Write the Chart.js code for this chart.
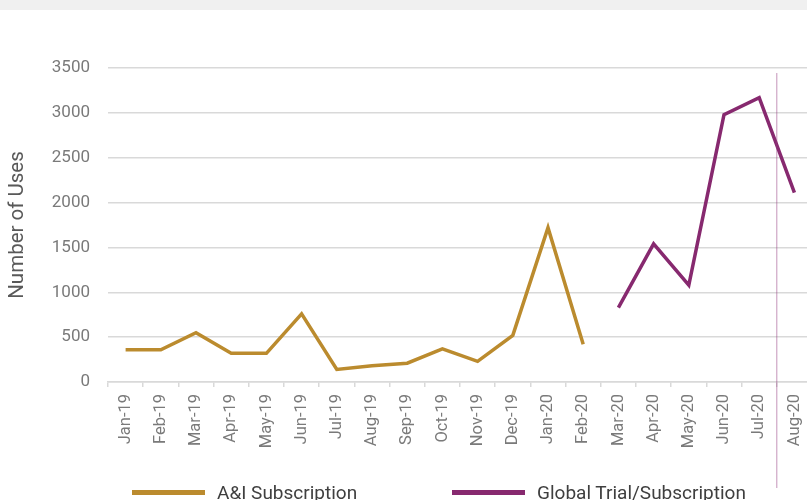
<!DOCTYPE html>
<html>
<head>
<meta charset="utf-8">
<script src="https://cdn.jsdelivr.net/npm/chart.js@4.4.1/dist/chart.umd.min.js"></script>
<style>
  html, body { margin: 0; padding: 0; background: #fff; overflow: hidden; }
  body { width: 807px; height: 500px; position: relative; }
  #band { position: absolute; left: 0; top: 0; width: 807px; height: 10px; background: #f0f0f0; z-index: 2; }
  #wrap { position: absolute; left: 0; top: 0; width: 830px; height: 500px; }
  .leg { position: absolute; top: 482px; font-family: Roboto, sans-serif; font-size: 19px; line-height: 22px; color: #3f3f3f; white-space: nowrap; z-index: 3; }
  .leg i { position: absolute; top: 8px; height: 5px; width: 73px; }
</style>
</head>
<body>
<div id="band"></div>
<div id="wrap"><canvas id="usesChart"></canvas></div>
<div class="leg" style="left:132px;"><i style="left:0;background:#BB8B2E;"></i><span style="margin-left:85px;">A&amp;I Subscription</span></div>
<div class="leg" style="left:452px;"><i style="left:0;background:#87296F;"></i><span style="margin-left:85px;">Global Trial/Subscription</span></div>
<script>
// months shown on the x axis
const months = ['Jan-19', 'Feb-19', 'Mar-19', 'Apr-19', 'May-19', 'Jun-19', 'Jul-19', 'Aug-19',
  'Sep-19', 'Oct-19', 'Nov-19', 'Dec-19', 'Jan-20', 'Feb-20', 'Mar-20', 'Apr-20',
  'May-20', 'Jun-20', 'Jul-20', 'Aug-20'];

// A&I Subscription uses (ends Feb-20)
const aiSubscription = [360, 360, 550, 320, 320, 760, 140, 180, 210, 370, 230, 520, 1720, 420,
  null, null, null, null, null, null];

// Global Trial/Subscription uses (starts Mar-20)
const globalTrial = [null, null, null, null, null, null, null, null, null, null, null, null, null, null,
  830, 1540, 1080, 2980, 3170, 2110];

const yTicks = [0, 500, 1000, 1500, 2000, 2500, 3000, 3500];

// thin marker between Jul-20 and Aug-20
const markerLine = {
  id: 'markerLine',
  afterDatasetsDraw(chart) {
    const x = chart.scales.x;
    const px = (x.getPixelForValue(18) + x.getPixelForValue(19)) / 2;
    const ctx = chart.ctx;
    ctx.save();
    ctx.strokeStyle = 'rgba(150, 60, 130, 0.55)';
    ctx.lineWidth = 1;
    ctx.beginPath();
    ctx.moveTo(px, chart.chartArea.top + 5);
    ctx.lineTo(px, chart.height - 12);
    ctx.stroke();
    ctx.restore();
  }
};

new Chart(document.getElementById('usesChart'), {
  type: 'line',
  data: {
    labels: months,
    datasets: [
      {
        label: 'A&I Subscription',
        data: aiSubscription,
        borderColor: '#BB8B2E',
        backgroundColor: '#BB8B2E',
        borderWidth: 3.5,
        pointRadius: 0,
        tension: 0
      },
      {
        label: 'Global Trial/Subscription',
        data: globalTrial,
        borderColor: '#87296F',
        backgroundColor: '#87296F',
        borderWidth: 3.5,
        pointRadius: 0,
        tension: 0
      }
    ]
  },
  options: {
    responsive: true,
    maintainAspectRatio: false,
    animation: false,
    layout: { padding: { top: 68, right: 18, bottom: 0, left: 0 } },
    plugins: {
      legend: { display: false },
      tooltip: { enabled: false }
    },
    scales: {
      x: {
        offset: true,
        grid: { drawOnChartArea: false, drawTicks: true, tickLength: 5, offset: true, color: '#d9d9d9', lineWidth: 1.5 },
        border: { display: true, color: '#d9d9d9', width: 1.5 },
        ticks: {
          autoSkip: false,
          minRotation: 90,
          maxRotation: 90,
          padding: 7,
          color: '#7a7a7a',
          font: { family: 'Roboto', size: 16.5 }
        },
        afterFit: (scale) => { scale.height = 118; }
      },
      y: {
        min: 0,
        max: 3500,
        afterBuildTicks: (scale) => { scale.ticks = yTicks.map(v => ({ value: v })); },
        grid: { drawTicks: false, color: '#d9d9d9', lineWidth: 1.5 },
        border: { display: false },
        ticks: {
          padding: 18,
          color: '#7a7a7a',
          font: { family: 'Roboto', size: 17 },
          callback: (v) => String(v)
        },
        title: {
          display: true,
          text: 'Number of Uses',
          color: '#595959',
          padding: { top: 6, bottom: 0 },
          font: { family: 'Roboto', size: 20.5 }
        },
        afterFit: (scale) => { scale.width = 108; }
      }
    }
  },
  plugins: [markerLine]
});
</script>
</body>
</html>
